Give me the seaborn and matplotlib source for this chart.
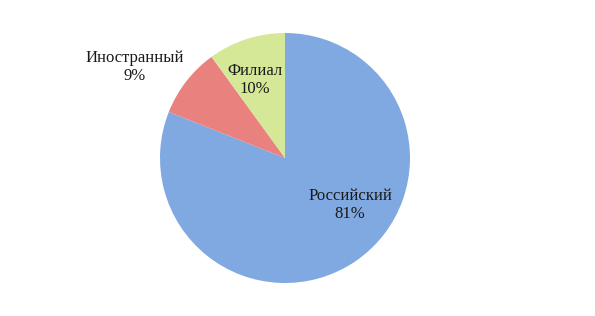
import matplotlib
matplotlib.use("Agg")
import matplotlib.pyplot as plt
import seaborn as sns

categories = ["Российский", "Иностранный", "Филиал"]
values = [81, 9, 10]
colors = ["#80a9e2", "#e9827e", "#d5e898"]
label_pos = [(0.52, -0.376), (-1.2, 0.728), (-0.24, 0.624)]

sns.set_theme(style="white")
plt.rcParams['font.family'] = ['Liberation Serif', 'DejaVu Serif']

fig = plt.figure(figsize=(5.95, 3.16), dpi=100)
cx, cy, r = 285, 158, 125
W, H = 595, 316
ax = fig.add_axes([(cx - r) / W, (H - cy - r) / H, 2 * r / W, 2 * r / H])
ax.pie(values, colors=colors, startangle=90, counterclock=False,
       radius=1.0, wedgeprops=dict(linewidth=0))
for cat, v, (x, y) in zip(categories, values, label_pos):
    ax.text(x, y, f"{cat}\n{v}%", ha="center", va="center", fontsize=12,
            color="#1a1a1a", linespacing=1.15)
ax.set_xlim(-1, 1)
ax.set_ylim(-1, 1)
ax.set_aspect("equal")
ax.axis("off")
fig.savefig("out.png", dpi=100)
